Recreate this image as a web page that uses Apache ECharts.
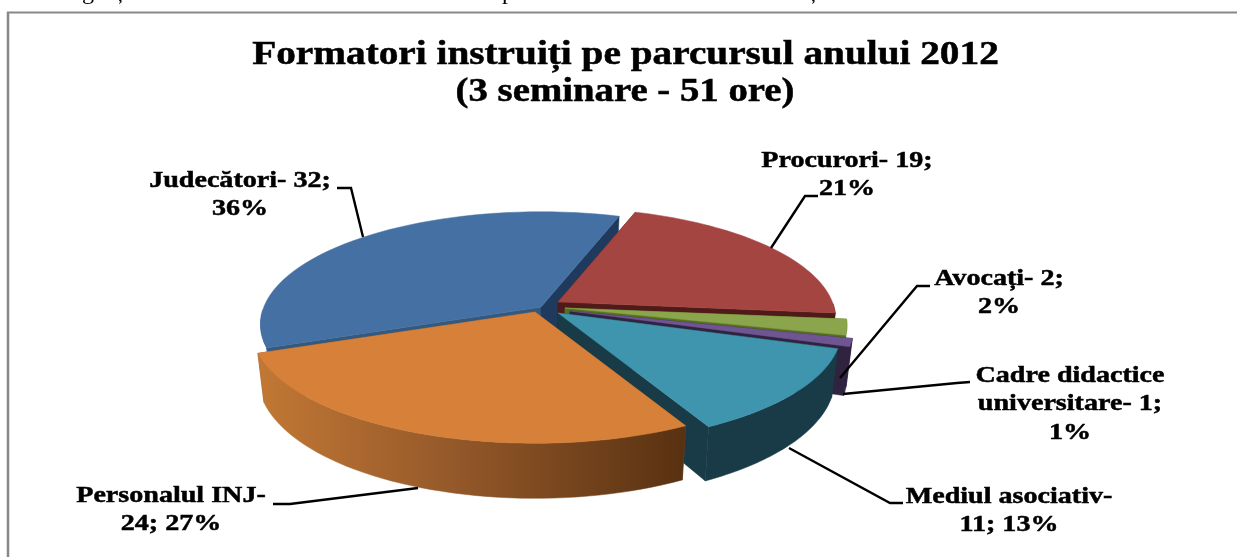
<!DOCTYPE html>
<html><head><meta charset="utf-8">
<style>html,body{margin:0;padding:0;background:#fff}#c{width:1237px;height:557px}</style>
<script src="https://cdn.jsdelivr.net/npm/echarts@6/dist/echarts.min.js"></script>
</head><body><div id="c"></div>
<script>
const categories = ['Judecători','Procurori','Avocați','Cadre didactice universitare','Mediul asociativ','Personalul INJ'];
const values = [32,19,2,1,11,24];
const percents = [36,21,2,1,13,27];
const labelTexts = ['Judecători- 32;\n36%','Procurori- 19;\n21%','Avocați- 2;\n2%','Cadre didactice\nuniversitare- 1;\n1%','Mediul asociativ-\n11; 13%','Personalul INJ-\n24; 27%'];
const titleLines = ['Formatori instruiți pe parcursul anului 2012','(3 seminare - 51 ore)'];
const clippedLine = ['g','ț','p','ț'];

// layout only
const firstAngle = -110.6, RX = 280, RY = 111, persp = 0.154, shrink = 0.978;
const apexes = [[541,307],[558,302],[565,308],[570,311],[558,313],[535,312]];
const radial = [0.99,0.98,0.995,1,1,1];
const labelPos = [[240,195],[847,175],[999,293],[1070,404],[1009,511],[171,510]];
const clippedX = [88,120,508,813];
const leaders = [
 [[337,188],[351,188],[363,237]],
 [[818,196],[805,196],[771,248]],
 [[930,286],[917,286],[840,378]],
 [[970,382],[957,383],[843,394]],
 [[903,503],[890,503],[789,448]],
 [[273,504],[290,504],[418,488]]
];
const topCol = ['#4470A3','#A54542','#8AA54C','#6F5592','#3F95AE','#D6803A'];
const sideCol = [['#34597F','#1F3A5C'],['#4F1A18','#4F1A18'],['#56701F','#56701F'],['#2F2340','#2F2340'],['#193B47','#193B47'],['#8A5020','#8A5020']];
const outerCol = ['#3D6693','#4F1A18','#56701F','#2F2340','#193B47',null];

const total = values.reduce((a,b)=>a+b,0);
function project(i, deg, r, bottom){
  const t = deg*Math.PI/180, u = r*Math.sin(t), v = -r*Math.cos(t), s = radial[i]/(1-persp*v);
  let dx = RX*u*s, dy = RY*v*s;
  if(bottom){ dx *= shrink; dy = dy*shrink + 46 + 12*v; }
  return [apexes[i][0]+dx, apexes[i][1]+dy];
}
function renderItem(params, api){
  const i = params.dataIndex;
  let before = 0; for(let k=0;k<i;k++) before += values[k];
  const a0 = firstAngle + before/total*360, a1 = a0 + api.value(0)/total*360;
  const n = 48, topArc = [], botArc = [], frontTop = [], frontBot = [];
  for(let k=0;k<=n;k++){
    const a = a0+(a1-a0)*k/n, T = project(i,a,1,false), B = project(i,a,1,true);
    topArc.push(T); botArc.push(B);
    if(Math.cos(a*Math.PI/180) <= 0){ frontTop.push(T); frontBot.push(B); }
  }
  const apT = project(i,0,0,false), apB = project(i,0,0,true);
  const poly = (pts,fill)=>({type:'polygon',shape:{points:pts},style:{fill:fill,stroke:fill,lineWidth:0.5}});
  const xs = topArc.map(p=>p[0]);
  const fillOuter = outerCol[i] || new echarts.graphic.LinearGradient(Math.min(...xs),0,Math.max(...xs),0,
     [{offset:0,color:'#C27834'},{offset:0.45,color:'#95592A'},{offset:1,color:'#583111'}],true);
  const kids = [
    poly([apT,topArc[0],botArc[0],apB],sideCol[i][0]),
    poly([apT,topArc[n],botArc[n],apB],sideCol[i][1])
  ];
  if(frontTop.length>1) kids.push(poly(frontTop.concat(frontBot.slice().reverse()),fillOuter));
  kids.push(poly([apT].concat(topArc),topCol[i]));
  return {type:'group',children:kids};
}
const font = 'Liberation Serif';
const heavy = {fill:'#000',stroke:'#000',lineWidth:0.5,align:'center',verticalAlign:'middle'};
const graphics = [
  {type:'line',shape:{x1:7,y1:12.5,x2:1237,y2:12.5},style:{stroke:'#888',lineWidth:2},silent:true},
  {type:'line',shape:{x1:8,y1:12,x2:8,y2:557},style:{stroke:'#888',lineWidth:2.5},silent:true},
  {type:'text',x:625.5,y:55,scaleX:1.19,z:20,style:Object.assign({text:titleLines[0],font:'bold 33px "'+font+'"'},heavy)},
  {type:'text',x:625,y:92,scaleX:1.175,z:20,style:Object.assign({text:titleLines[1],font:'bold 33px "'+font+'"'},heavy)}
];
clippedLine.forEach((t,i)=>graphics.push({type:'text',x:clippedX[i],y:5,silent:true,
  style:{text:t,fill:'#000',font:'24px "'+font+'"',align:'center',verticalAlign:'bottom'}}));
labelTexts.forEach((t,i)=>{
  graphics.push({type:'text',x:labelPos[i][0],y:labelPos[i][1],scaleX:1.17,z:20,
    style:Object.assign({text:t,font:'bold 24px "'+font+'"',lineHeight:28.5},heavy)});
  graphics.push({type:'polyline',z:19,shape:{points:leaders[i]},style:{stroke:'#000',lineWidth:2.4,fill:null},silent:true});
});
const chart = echarts.init(document.getElementById('c'),null,{renderer:'canvas'});
chart.setOption({
  animation:false,
  backgroundColor:'#fff',
  series:[{type:'custom',coordinateSystem:'none',silent:true,
    data:values.map((v,i)=>({name:categories[i],value:[v,percents[i]]})),
    renderItem:renderItem}],
  graphic:graphics
});
</script></body></html>
